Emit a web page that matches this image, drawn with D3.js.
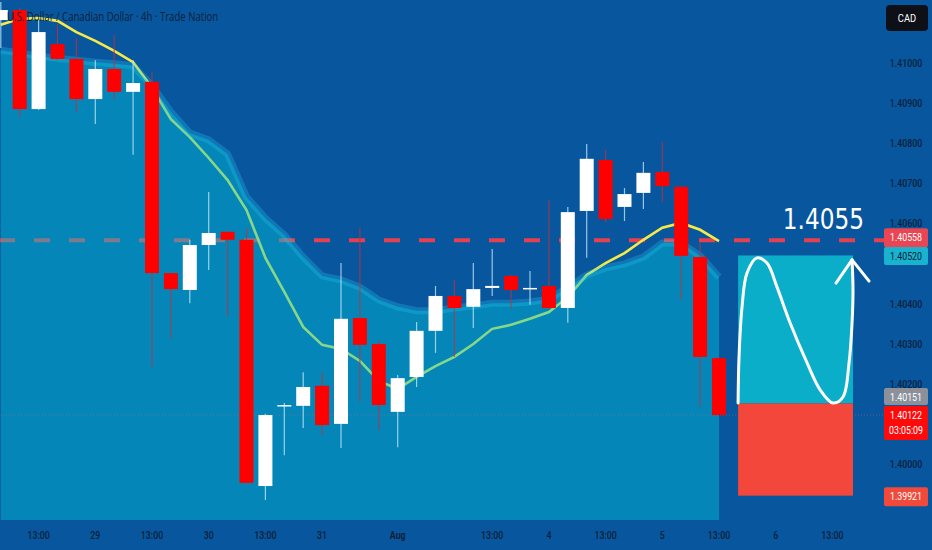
<!DOCTYPE html>
<html>
<head>
<meta charset="utf-8">
<script src="https://cdn.jsdelivr.net/npm/d3@7"></script>
<style>
  html, body { margin: 0; padding: 0; background: #08579e; overflow: hidden; }
  svg { display: block; }
</style>
</head>
<body>
<script>
// USD/CAD 4h candles
var opens  = [1.41107,1.41132,1.40885,1.41047,1.41010,1.40910,1.40985,1.40928,1.40953,1.40476,
              1.40434,1.40546,1.40579,1.40559,1.39945,1.40145,1.40145,1.40195,1.40100,1.40364,
              1.40299,1.40130,1.40217,1.40332,1.40419,1.40392,1.40439,1.40469,1.40438,1.40444,
              1.40389,1.40631,1.40758,1.40641,1.40676,1.40728,1.40691,1.40516,1.40264];
var highs  = [1.41152,1.41137,1.41107,1.41097,1.41062,1.41007,1.41070,1.41007,1.40978,1.40476,
              1.40559,1.40678,1.40581,1.40589,1.40125,1.40152,1.40229,1.40229,1.40501,1.40589,
              1.40309,1.40222,1.40354,1.40444,1.40459,1.40501,1.40536,1.40471,1.40481,1.40658,
              1.40641,1.40798,1.40783,1.40688,1.40753,1.40803,1.40693,1.40551,1.40267];
var lows   = [1.41037,1.40865,1.40883,1.41007,1.40878,1.40848,1.40910,1.40771,1.40242,1.40314,
              1.40401,1.40484,1.40367,1.39950,1.39910,1.40022,1.40090,1.40072,1.40040,1.40155,
              1.40085,1.40042,1.40192,1.40277,1.40267,1.40339,1.40419,1.40389,1.40397,1.40384,
              1.40352,1.40514,1.40603,1.40606,1.40636,1.40653,1.40409,1.40142,1.40122];
var closes = [1.41132,1.40885,1.41077,1.41010,1.40910,1.40985,1.40928,1.40950,1.40476,1.40436,
              1.40546,1.40576,1.40559,1.39953,1.40122,1.40147,1.40192,1.40097,1.40362,1.40297,
              1.40147,1.40214,1.40332,1.40419,1.40389,1.40436,1.40444,1.40434,1.40439,1.40389,
              1.40628,1.40761,1.40611,1.40673,1.40726,1.40693,1.40519,1.40267,1.40122];

// fast moving average (yellow line)
var emaFast = [1.41095,1.41110,1.41112,1.41105,1.41077,1.41055,1.41030,1.41002,1.40938,1.40860,
               1.40815,1.40763,1.40708,1.40633,1.40514,1.40429,1.40342,1.40297,1.40287,1.40257,
               1.40207,1.40187,1.40217,1.40244,1.40267,1.40299,1.40337,1.40347,1.40362,1.40379,
               1.40416,1.40471,1.40501,1.40526,1.40559,1.40589,1.40601,1.40584,1.40556];
// slow moving average (edge of the cloud)
var maSlow  = [1.41032,1.41025,1.41017,1.41012,1.41007,1.41002,1.40998,1.40993,1.40943,1.40878,
               1.40825,1.40808,1.40773,1.40666,1.40613,1.40571,1.40516,1.40469,1.40459,1.40441,
               1.40409,1.40392,1.40382,1.40382,1.40389,1.40394,1.40401,1.40401,1.40404,1.40411,
               1.40441,1.40471,1.40489,1.40499,1.40516,1.40551,1.40551,1.40519,1.40466];

var timeTickIdx  = [2, 5, 8, 11, 14, 17, 21, 26, 29, 32, 35, 38, 41, 44];
var timeTickText = ['13:00','29','13:00','30','13:00','31','Aug','13:00','4','13:00','5','13:00','6','13:00'];
var priceTicks   = [1.41000, 1.40900, 1.40800, 1.40700, 1.40600, 1.40400, 1.40300, 1.40200, 1.40000];

var levelPrice  = 1.40558, levelText = '1.4055';
var tradeTarget = 1.40520, tradeEntry = 1.40151, tradeStop = 1.39921;
var lastPrice   = 1.40122, countdown = '03:05:09';
var tradeFrom = 39.01, tradeTo = 45.09;
// hand drawn wave inside the trade box: [bar index, price]
var waveIdx   = [39.01,39.06,39.22,39.48,40.01,40.54,41.07,41.76,42.66,43.35,44.03,44.56,44.88,45.04,45.09,45.04];
var wavePrice = [1.40152,1.40267,1.40392,1.40476,1.40514,1.40501,1.40441,1.40352,1.40252,1.40185,1.40152,1.40167,1.40252,1.40352,1.40434,1.40509];
var arrowIdx   = [44.19, 45.04, 45.94];
var arrowPrice = [1.40451, 1.40509, 1.40456];

var W = 932, H = 550, plotBottom = 520;
var dark = '#0a2038';

var svg = d3.select('body').append('svg')
    .attr('width', W).attr('height', H);

var x = d3.scaleLinear().domain([0, 46]).range([0.8, 0.8 + 18.9 * 46]);
var y = d3.scaleLinear().domain([1.398603, 1.411570]).range([plotBottom, 0]);

svg.append('rect').attr('width', W).attr('height', H).attr('fill', '#08579e');

var idx = d3.range(opens.length);
var plot = svg.append('g');

// level line (under the cloud, so it greys out inside it)
plot.append('line')
    .attr('x1', 0).attr('x2', 884)
    .attr('y1', y(levelPrice)).attr('y2', y(levelPrice))
    .attr('stroke', '#e5404f').attr('stroke-width', 4)
    .attr('stroke-dasharray', '16,19').attr('stroke-dashoffset', 1);

// fast average
plot.append('path')
    .datum(idx)
    .attr('fill', 'none')
    .attr('stroke', '#f5ea48')
    .attr('stroke-width', 2.6)
    .attr('d', d3.line().x(function(i) { return x(i); }).y(function(i) { return y(emaFast[i]); }));

// cloud below the slow average
plot.append('path')
    .datum(idx)
    .attr('fill', 'rgb(1,196,216)')
    .attr('fill-opacity', 0.45)
    .attr('d', d3.area().x(function(i) { return x(i); })
        .y0(plotBottom).y1(function(i) { return y(maSlow[i]); }));

plot.append('path')
    .datum(idx)
    .attr('fill', 'none')
    .attr('stroke', 'rgb(40,200,240)')
    .attr('stroke-opacity', 0.28)
    .attr('stroke-width', 7)
    .attr('d', d3.line().x(function(i) { return x(i); }).y(function(i) { return y(maSlow[i]); }));

// faint last price line
plot.append('line')
    .attr('x1', 0).attr('x2', 884)
    .attr('y1', y(lastPrice)).attr('y2', y(lastPrice))
    .attr('stroke', '#ff6070').attr('stroke-opacity', 0.35)
    .attr('stroke-width', 1).attr('stroke-dasharray', '1,2');

// candles
var bw = 14;
var candle = plot.selectAll('g.candle').data(idx).enter().append('g').attr('class', 'candle');
function col(i) { return closes[i] >= opens[i] ? '#ffffff' : '#ff0000'; }
candle.append('line')
    .attr('x1', function(i) { return x(i); })
    .attr('x2', function(i) { return x(i); })
    .attr('y1', function(i) { return y(highs[i]); })
    .attr('y2', function(i) { return y(lows[i]); })
    .attr('stroke', function(i) { return closes[i] >= opens[i] ? '#c8ecfa' : '#c0303c'; })
    .attr('stroke-opacity', 0.75)
    .attr('stroke-width', 1.2);
candle.append('rect')
    .attr('x', function(i) { return x(i) - bw / 2; })
    .attr('width', bw)
    .attr('y', function(i) { return y(Math.max(opens[i], closes[i])); })
    .attr('height', function(i) { return Math.max(1.5, Math.abs(y(opens[i]) - y(closes[i]))); })
    .attr('fill', col);

// trade box
var tb = svg.append('g');
tb.append('rect')
    .attr('x', x(tradeFrom)).attr('width', x(tradeTo) - x(tradeFrom))
    .attr('y', y(tradeTarget)).attr('height', y(tradeEntry) - y(tradeTarget))
    .attr('fill', '#0aaec8');
tb.append('rect')
    .attr('x', x(tradeFrom)).attr('width', x(tradeTo) - x(tradeFrom))
    .attr('y', y(tradeEntry)).attr('height', y(tradeStop) - y(tradeEntry))
    .attr('fill', '#f2473a');

tb.append('path')
    .datum(d3.range(waveIdx.length))
    .attr('fill', 'none').attr('stroke', '#ffffff').attr('stroke-width', 3)
    .attr('stroke-linecap', 'round')
    .attr('d', d3.line().curve(d3.curveCatmullRom)
        .x(function(k) { return x(waveIdx[k]); })
        .y(function(k) { return y(wavePrice[k]); }));
tb.append('path')
    .datum(d3.range(arrowIdx.length))
    .attr('fill', 'none').attr('stroke', '#ffffff').attr('stroke-width', 3)
    .attr('stroke-linecap', 'round').attr('stroke-linejoin', 'round')
    .attr('d', d3.line()
        .x(function(k) { return x(arrowIdx[k]); })
        .y(function(k) { return y(arrowPrice[k]); }));

// squeeze text horizontally (the reference type is narrow)
function narrow(sel, k, ax, ay) {
  sel.attr('transform', 'translate(' + ax + ',' + ay + ') scale(' + k + ',1)')
     .attr('x', 0).attr('y', 0);
}

// big level text
svg.append('text')
    .attr('text-anchor', 'end')
    .attr('font-family', 'DejaVu Sans, sans-serif')
    .attr('font-size', 29)
    .attr('fill', '#ffffff')
    .text(levelText)
    .call(narrow, 0.8, 864, y(levelPrice) - 11);

// title
svg.append('text')
    .attr('font-family', 'Open Sans, sans-serif')
    .attr('font-size', 12)
    .attr('font-weight', 500)
    .attr('fill', dark)
    .text('U.S. Dollar / Canadian Dollar · 4h · Trade Nation')
    .call(narrow, 0.8, 7, 21);

// price scale
var axisFont = 'Roboto, sans-serif';
svg.append('g').selectAll('text').data(priceTicks).enter().append('text')
    .attr('text-anchor', 'middle')
    .attr('font-family', axisFont).attr('font-size', 11).attr('font-weight', 500)
    .attr('fill', dark)
    .text(function(d) { return d.toFixed(5); })
    .each(function(d) { d3.select(this).call(narrow, 0.8, 906, y(d) + 4); });

// time scale
svg.append('g').selectAll('text').data(timeTickIdx).enter().append('text')
    .attr('text-anchor', 'middle')
    .attr('font-family', axisFont).attr('font-size', 11)
    .attr('font-weight', function(d, k) { return timeTickText[k] === 'Aug' ? 700 : 500; })
    .attr('fill', dark)
    .text(function(d, k) { return timeTickText[k]; })
    .each(function(d) { d3.select(this).call(narrow, 0.8, x(d), 539); });

// currency badge
svg.append('rect').attr('x', 886).attr('y', 5).attr('width', 42).attr('height', 26)
    .attr('rx', 4).attr('fill', '#0d1117');
svg.append('text').attr('text-anchor', 'middle')
    .attr('font-family', axisFont).attr('font-size', 11).attr('fill', '#ffffff')
    .text('CAD')
    .call(narrow, 0.85, 907, 22);

// price labels on the scale
function priceTag(cy, h, bg, fg, lines) {
  var g = svg.append('g');
  g.append('rect').attr('x', 884).attr('y', cy - h / 2).attr('width', 44).attr('height', h)
      .attr('rx', 2).attr('fill', bg);
  lines.forEach(function(t, k) {
    g.append('text')
        .attr('text-anchor', 'middle')
        .attr('font-family', axisFont).attr('font-size', 11)
        .attr('fill', fg)
        .text(t)
        .call(narrow, 0.8, 906, cy - h / 2 + 13 + k * 15);
  });
}
priceTag(y(levelPrice) - 2.5, 19, '#ea4552', '#ffffff', [levelPrice.toFixed(5)]);
priceTag(y(tradeTarget) + 0.5, 18, '#17b3cf', dark, [tradeTarget.toFixed(5)]);
priceTag(y(tradeEntry) - 7, 17, '#8c909b', '#ffffff', [tradeEntry.toFixed(5)]);
priceTag(y(lastPrice) + 8, 34, '#ff0a0a', '#ffffff', [lastPrice.toFixed(5), countdown]);
priceTag(y(tradeStop) + 1, 19, '#f24a3a', '#ffffff', [tradeStop.toFixed(5)]);
</script>
</body>
</html>
